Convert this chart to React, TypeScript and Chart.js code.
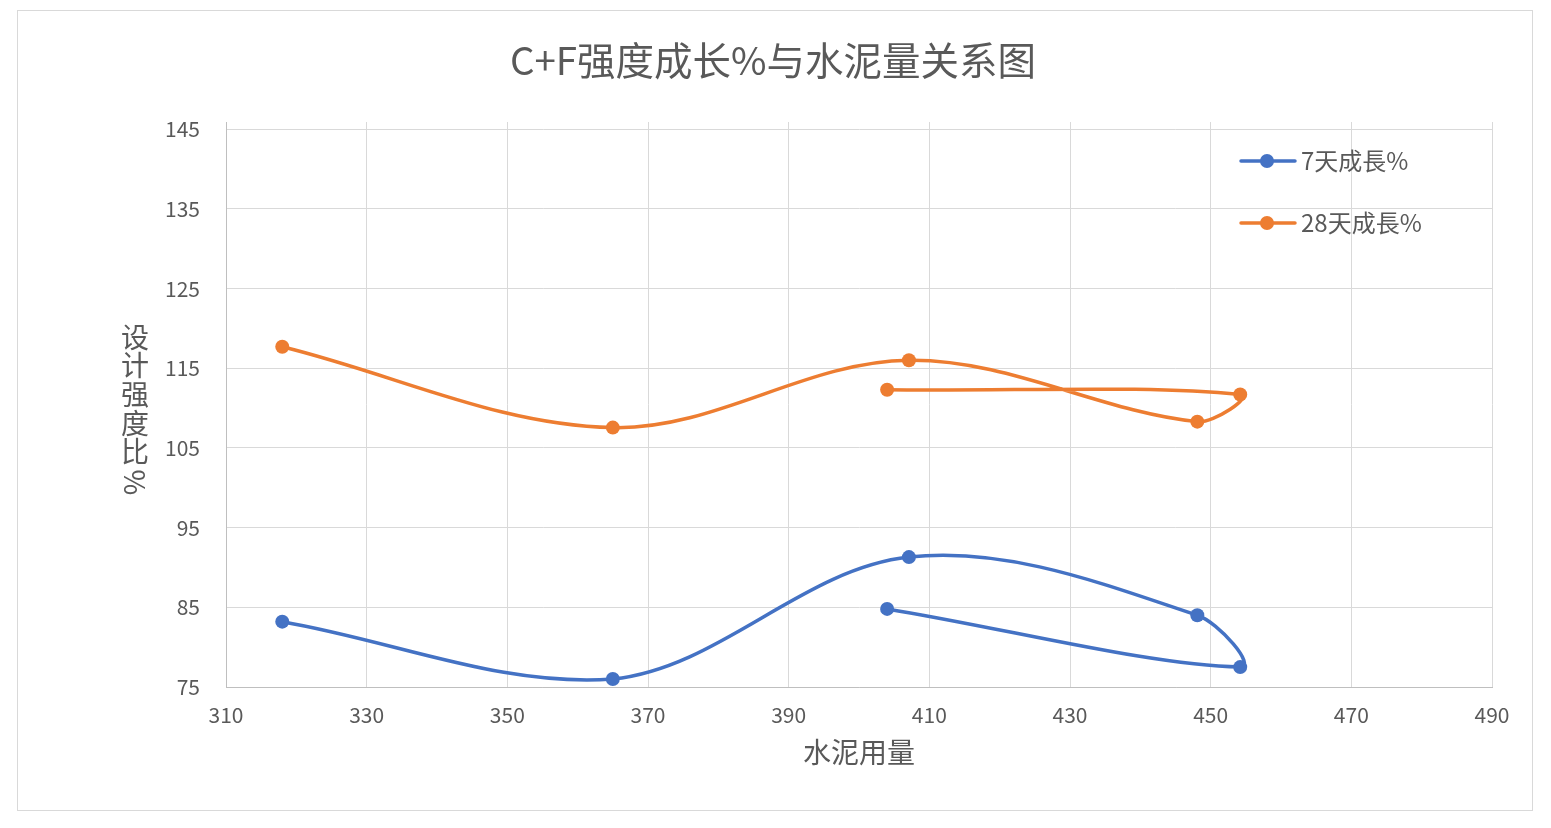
import React, { useEffect, useRef } from "react";
import { Chart, registerables } from "chart.js";

Chart.register(...registerables);

const chartTitle = "C+F强度成长%与水泥量关系图";
const xAxisTitle = "水泥用量";
const yAxisTitle = "设计强度比%";
const seriesLabels = ["7天成長%", "28天成長%"];
const seriesColors = ["#4472C4", "#ED7D31"];
const cementAmounts = [318, 365, 407.1, 448.1, 454.2, 404];
const sevenDayGrowth = [83.2, 76.0, 91.3, 84.0, 77.5, 84.8];
const twentyEightDayGrowth = [117.7, 107.55, 116.0, 108.3, 111.7, 112.3];
const xTicksRange = { min: 310, max: 490, step: 20 };
const yTicksRange = { min: 75, max: 145, step: 10, top: 145.9 };

const FONT = "'Noto Sans CJK SC', 'Noto Sans', sans-serif";
const TEXT = "#595959";

const decorPlugin = {
  id: "decor",
  beforeDraw(chart: any) {
    const ctx = chart.ctx;
    ctx.save();
    ctx.fillStyle = "#ffffff";
    ctx.fillRect(0, 0, chart.width, chart.height);
    ctx.strokeStyle = "#D9D9D9";
    ctx.lineWidth = 1;
    ctx.strokeRect(17.5, 10.5, 1515, 800);
    ctx.restore();
  },
  afterDraw(chart: any) {
    const ctx = chart.ctx;
    ctx.save();
    // title
    ctx.fillStyle = TEXT;
    ctx.font = `38.5px ${FONT}`;
    ctx.textAlign = "center";
    ctx.textBaseline = "middle";
    ctx.fillText(chartTitle, 773, 60);
    // y axis title (stacked)
    ctx.font = `28px ${FONT}`;
    const chars = Array.from(yAxisTitle);
    chars.forEach((ch, i) => {
      const y = 337 + i * 28.7;
      if (ch === "%") {
        ctx.save();
        ctx.translate(135, y + 2);
        ctx.rotate(Math.PI / 2);
        ctx.fillText(ch, 0, 0);
        ctx.restore();
      } else {
        ctx.fillText(ch, 135, y);
      }
    });
    // legend
    chart.data.datasets.forEach((ds: any, i: number) => {
      const y = 161 + i * 62;
      ctx.strokeStyle = ds.borderColor;
      ctx.lineWidth = 3.5;
      ctx.lineCap = "round";
      ctx.beginPath();
      ctx.moveTo(1241, y);
      ctx.lineTo(1295, y);
      ctx.stroke();
      ctx.fillStyle = ds.backgroundColor;
      ctx.beginPath();
      ctx.arc(1267, y, 7, 0, Math.PI * 2);
      ctx.fill();
      ctx.fillStyle = TEXT;
      ctx.font = `24px ${FONT}`;
      ctx.textAlign = "left";
      ctx.textBaseline = "middle";
      ctx.fillText(ds.label, 1301, y);
    });
    ctx.restore();
  },
};

export default function App() {
  const ref = useRef<HTMLCanvasElement>(null);
  useEffect(() => {
    if (!ref.current) return;
    const mk = (vals: number[]) => cementAmounts.map((x, i) => ({ x, y: vals[i] }));
    const chart = new Chart(ref.current, {
      type: "scatter",
      data: {
        datasets: [
          {
            label: seriesLabels[0],
            data: mk(sevenDayGrowth),
            showLine: true,
            borderColor: seriesColors[0],
            backgroundColor: seriesColors[0],
            borderWidth: 3.5,
            pointRadius: 7,
            pointBorderWidth: 0,
            tension: 0.35,
          },
          {
            label: seriesLabels[1],
            data: mk(twentyEightDayGrowth),
            showLine: true,
            borderColor: seriesColors[1],
            backgroundColor: seriesColors[1],
            borderWidth: 3.5,
            pointRadius: 7,
            pointBorderWidth: 0,
            tension: 0.35,
          },
        ],
      },
      options: {
        responsive: false,
        animation: false,
        layout: { padding: { top: 122, left: 0, right: 59, bottom: 0 } },
        plugins: {
          legend: { display: false },
          title: { display: false },
          tooltip: { enabled: false },
        },
        scales: {
          x: {
            type: "linear",
            min: xTicksRange.min,
            max: xTicksRange.max,
            afterFit: (s: any) => {
              s.height = 141;
            },
            ticks: {
              stepSize: xTicksRange.step,
              color: TEXT,
              font: { family: FONT, size: 21 },
              padding: 15,
            },
            grid: { color: "#D9D9D9", lineWidth: 1, drawTicks: false },
            border: { color: "#BFBFBF", width: 1 },
            title: {
              display: true,
              text: xAxisTitle,
              color: TEXT,
              font: { family: FONT, size: 28 },
              padding: { top: 0, bottom: 59 },
            },
          },
          y: {
            type: "linear",
            min: yTicksRange.min,
            max: yTicksRange.top,
            afterFit: (s: any) => {
              s.width = 226;
            },
            afterBuildTicks: (s: any) => {
              const t = [];
              for (let v = yTicksRange.min; v <= yTicksRange.max; v += yTicksRange.step) t.push({ value: v });
              s.ticks = t;
            },
            ticks: {
              color: TEXT,
              font: { family: FONT, size: 21 },
              padding: 26,
            },
            grid: { color: "#D9D9D9", lineWidth: 1, drawTicks: false },
            border: { color: "#BFBFBF", width: 1 },
          },
        },
      },
      plugins: [decorPlugin],
    });
    return () => chart.destroy();
  }, []);
  return (
    <div style={{ position: "fixed", left: 0, top: 0, width: 1551, height: 828, background: "#fff" }}>
      <canvas ref={ref} width={1551} height={828} style={{ width: 1551, height: 828, display: "block" }} />
    </div>
  );
}
